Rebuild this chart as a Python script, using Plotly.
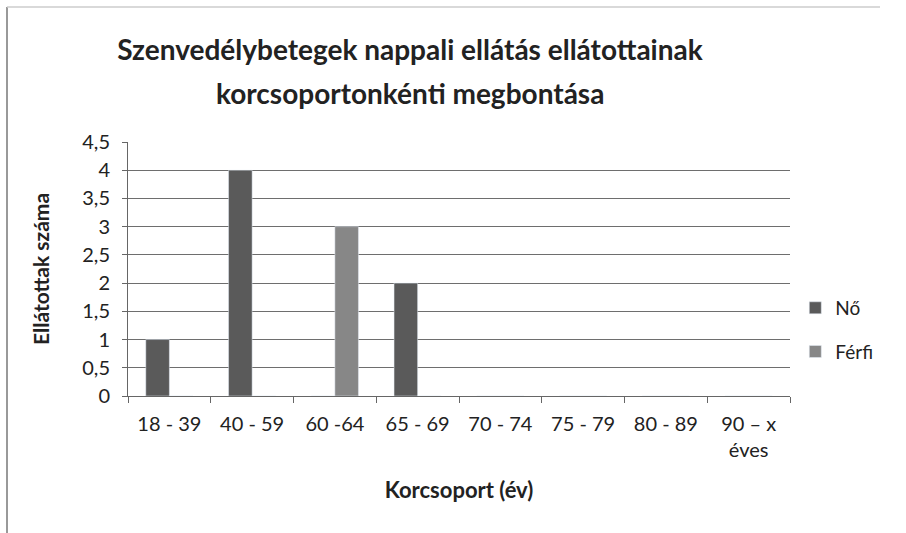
import plotly.graph_objects as go

categories = ["18 - 39", "40 - 59", "60 -64", "65 - 69", "70 - 74", "75 - 79", "80 - 89", "90 – x<br>éves"]
no_values = [1, 4, 0, 2, 0, 0, 0, 0]
ferfi_values = [0, 0, 3, 0, 0, 0, 0, 0]
y_tickvals = [0, 0.5, 1, 1.5, 2, 2.5, 3, 3.5, 4, 4.5]
y_ticktext = ["0", "0,5", "1", "1,5", "2", "2,5", "3", "3,5", "4", "4,5"]
title_line1 = "Szenvedélybetegek nappali ellátás ellátottainak"
title_line2 = "korcsoportonkénti megbontása"

FONT = "Lato, 'Open Sans', sans-serif"

fig = go.Figure()
fig.add_trace(go.Bar(name="Nő", x=categories, y=no_values, legendgroup="no",
                     marker=dict(color="#5a5a5a")))
fig.add_trace(go.Bar(name="Férfi", x=categories, y=ferfi_values, legendgroup="ferfi",
                     marker=dict(color="#878787")))

fig.update_layout(
    width=906, height=533,
    paper_bgcolor="white", plot_bgcolor="white",
    margin=dict(l=128, r=116, t=142, b=137),
    barmode="group", bargap=0.43, bargroupgap=0,
    font=dict(family=FONT, size=20, color="#222"),
    title=dict(text="<b>" + title_line1 + "</b>",
               x=0.4525, xanchor="center", y=1 - 50 / 533, yanchor="middle",
               font=dict(family=FONT, size=28, color="#222")),
    legend=dict(x=1.008, y=0.26, xanchor="left", yanchor="middle",
                traceorder="grouped",
                font=dict(family=FONT, size=19, color="#222"),
                tracegroupgap=16, itemwidth=30, bgcolor="rgba(0,0,0,0)"),
    showlegend=True,
)
fig.add_annotation(text="<b>" + title_line2 + "</b>", xref="paper", yref="paper",
                   x=(410 - 128) / 662, y=(396 - 93) / 254, xanchor="center", yanchor="middle",
                   showarrow=False, font=dict(family=FONT, size=28, color="#222"))
fig.update_xaxes(
    showline=True, linecolor="#666", linewidth=1,
    ticks="outside", tickson="boundaries", ticklen=6, tickcolor="#666",
    ticklabelstandoff=10,
    showgrid=False,
    title=dict(text="<b>Korcsoport (év)</b>", font=dict(family=FONT, size=22, color="#222"), standoff=22),
    tickfont=dict(family=FONT, size=20, color="#222"),
)
fig.update_yaxes(
    range=[0, 4.5], tickvals=y_tickvals, ticktext=y_ticktext,
    showline=True, linecolor="#666", linewidth=1,
    ticks="outside", ticklen=5, tickcolor="#666",
    ticklabelstandoff=8,
    showgrid=True, gridcolor="#6e6e6e", gridwidth=1,
    zeroline=False,
    title=dict(text="<b>Ellátottak száma</b>", font=dict(family=FONT, size=21, color="#222"), standoff=26),
    tickfont=dict(family=FONT, size=20, color="#222"),
)
# chart border (scan frame)
fig.add_shape(type="line", xref="paper", yref="paper",
              x0=(7 - 128) / 662, x1=(7 - 128) / 662, y0=-(533 - 396) / 254, y1=(396 - 7) / 254,
              line=dict(color="#999", width=2))
fig.add_shape(type="line", xref="paper", yref="paper",
              x0=(7 - 128) / 662, x1=(880 - 128) / 662, y0=(396 - 7) / 254, y1=(396 - 7) / 254,
              line=dict(color="#ccc", width=1.5))

fig.write_html("out.html", config={"displayModeBar": False},
               post_script="document.body.style.margin='0';")
